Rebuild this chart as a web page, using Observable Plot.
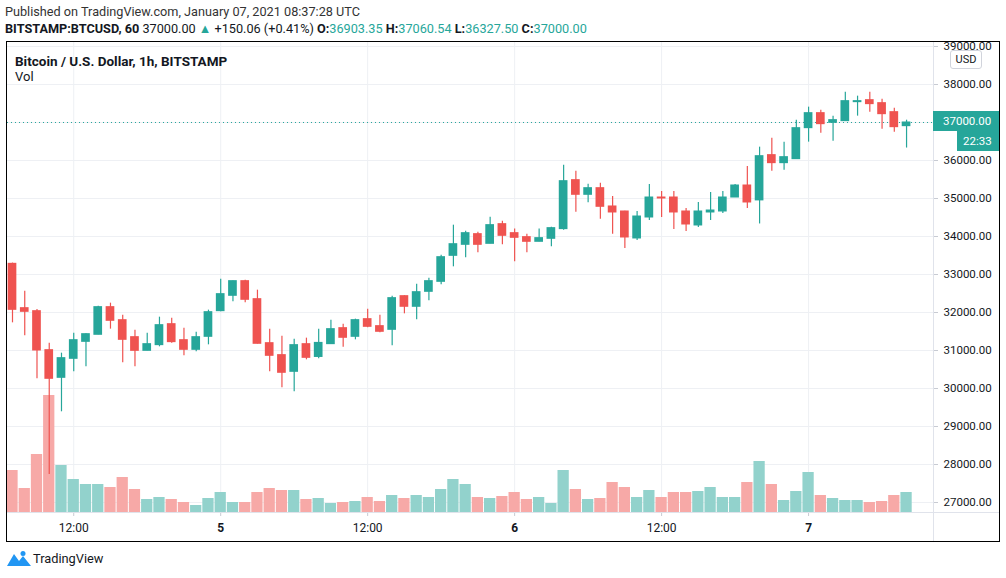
<!DOCTYPE html>
<html><head><meta charset="utf-8">
<script src="https://cdn.jsdelivr.net/npm/d3@7"></script>
<script src="https://cdn.jsdelivr.net/npm/@observablehq/plot@0.6"></script>
<style>
body{margin:0;background:#fff;font-family:Roboto,"Open Sans",sans-serif;color:#131722;}
#root{position:relative;width:1006px;height:578px;overflow:hidden;background:#fff;}
.abs{position:absolute;white-space:nowrap;}
#chart{position:absolute;left:0;top:42px;width:1006px;height:500px;overflow:hidden;}
#chart svg{position:absolute;left:0;top:0;}
.b{font-weight:bold;}
.g{color:#26a69a;}
</style></head><body>
<div id="root">
  <div class="abs" style="left:5px;top:4px;font-size:12.7px;line-height:16px;color:#333;">Published on TradingView.com, January 07, 2021 08:37:28 UTC</div>
  <div class="abs" style="left:5px;top:21px;font-size:12.7px;line-height:16px;"><span class="b">BITSTAMP:BTCUSD, 60</span> 37000.00 <span class="g">▲</span> +150.06 (+0.41%) <span class="b">O:</span><span class="g">36903.35</span> <span class="b">H:</span><span class="g">37060.54</span> <span class="b">L:</span><span class="g">36327.50</span> <span class="b">C:</span><span class="g">37000.00</span></div>
  <div id="chart"></div>
  <div class="abs" style="left:933px;top:42px;width:1px;height:500px;background:#e0e3eb;"></div>
  <div class="abs" style="left:7px;top:512px;width:992px;height:1px;background:#e0e3eb;"></div>
  <div class="abs" style="left:15px;top:53px;font-size:13.5px;line-height:16px;font-weight:bold;">Bitcoin / U.S. Dollar, 1h, BITSTAMP</div>
  <div class="abs" style="left:15px;top:69px;font-size:13px;line-height:16px;">Vol</div>
  <div class="abs" style="left:950px;top:50px;width:30px;height:17px;border:1px solid #d1d4dc;border-radius:3px;font-size:11px;line-height:17px;text-align:center;background:#fff;">USD</div>
  <div class="abs" style="left:933px;top:111px;width:66px;height:20px;background:#26a69a;color:#fff;font-size:11.5px;line-height:20px;padding-left:10px;box-sizing:border-box;">37000.00</div>
  <div class="abs" style="left:957px;top:131px;width:42px;height:20px;background:#26a69a;color:#fff;font-size:11.5px;line-height:20px;padding-left:6px;box-sizing:border-box;">22:33</div>
  <div class="abs" style="left:6px;top:41px;width:992px;height:499px;border:1px solid #000;"></div>
  <svg class="abs" style="left:6px;top:550px;" width="26" height="18" viewBox="0 0 26 18">
    <path d="M1 16 L8 4 L13 11 L17 6 L25 16 Z" fill="#2196f3"/>
    <circle cx="17" cy="3.5" r="2.5" fill="#2196f3"/>
  </svg>
  <div class="abs" style="left:33px;top:551px;font-size:12.8px;line-height:16px;color:#131722;">TradingView</div>
</div>
<script>
// Hourly candles, BITSTAMP BTCUSD, first candle 2021-01-04 07:00 UTC
const startHour = Date.UTC(2021, 0, 4, 7);
const opens  = [33281,32114,32035,31009,30281,30781,31228,31413,32141,31798,31351,30991,31141,31693,31272,31018,31360,32035,32439,32825,32351,31193,30878,30439,31167,30830,31167,31588,31360,31825,31641,31544,32430,32150,32544,32807,33491,33781,34062,33807,34325,34088,33983,33860,33939,34194,35483,35097,35272,34790,34658,33948,34500,35026,35026,34658,34290,34632,34658,35026,35342,34950,36141,35930,36035,36851,37246,36991,37035,37535,37588,37509,37272,36903.35];
const highs  = [33300,32561,32079,31193,30930,31456,31440,32167,32246,31930,31535,31456,31877,31851,31588,31483,32062,32877,32830,32851,32588,31562,31378,31299,31325,31562,31799,31693,31825,32088,31930,32430,32440,32746,32904,33509,34298,34141,34115,34509,34404,34194,34062,34194,34246,35877,35719,35377,35404,35053,34665,34658,35368,35184,35184,34737,34895,35158,35184,35368,35842,36351,36588,36483,37062,37404,37325,37167,37798,37693,37798,37614,37377,37060.54];
const lows   = [31728,31386,30255,27734,29387,30439,30571,31413,31562,30676,30571,30991,31097,31193,30860,30965,31149,32018,32281,32254,31170,30439,30018,29913,30755,30780,31167,31088,31281,31597,31465,31123,31965,31808,32307,32728,33202,33439,33571,33807,33781,33334,33571,33860,33728,34167,34641,34886,34456,34062,33685,33895,34421,34500,34184,34132,34237,34421,34605,35026,34737,34330,35720,35746,36035,36483,36720,36509,37035,37167,37272,36825,36746,36327.50];
const closes = [32070,32018,31000,30255,30799,31272,31430,32141,31781,31281,30991,31167,31667,31220,31018,31351,32009,32483,32825,32334,31176,30860,30413,31141,30807,31200,31562,31334,31799,31623,31492,32378,32150,32535,32825,33456,33798,34088,33781,34299,34018,33965,33860,33957,34220,35456,35097,35272,34781,34632,33974,34526,35026,35000,34632,34316,34658,34684,35026,35342,34895,36114,35930,36088,36851,37246,36956,37062,37562,37562,37483,37219,36877,37000.00];
const volumes = [1260,720,1740,3510,1410,990,840,840,750,1050,690,390,450,390,300,210,420,600,300,300,600,720,660,660,390,420,270,300,330,450,330,510,420,510,450,690,990,840,450,420,480,600,390,450,270,1260,690,390,420,900,750,450,660,450,600,600,630,750,450,450,900,1530,840,360,630,1200,510,420,360,360,300,330,510,600];

const priceTicks = [27000,28000,29000,30000,31000,32000,33000,34000,35000,36000,37000,38000,39000];
const halfDayTicks = [Date.UTC(2021,0,4,12), Date.UTC(2021,0,5,12), Date.UTC(2021,0,6,12)].map(t => new Date(t));
const dayTicks = [Date.UTC(2021,0,5), Date.UTC(2021,0,6), Date.UTC(2021,0,7)].map(t => new Date(t));
const halfDayLabel = "12:00";

const candles = opens.map((o, i) => ({
  time: new Date(startHour + i * 3600e3),
  open: o, high: highs[i], low: lows[i], close: closes[i], volume: volumes[i],
  up: closes[i] >= o
}));

const UP = "#26a69a", DOWN = "#ef5350", UPV = "#92d2cc", DOWNV = "#f7a9a7";
const HOUR = 3600e3;
const common = {
  width: 1006, height: 500,
  marginLeft: 7, marginRight: 73, marginTop: 0, marginBottom: 30,
  style: {background: "transparent", fontFamily: "Roboto, 'Open Sans', sans-serif", fontSize: "12px", color: "#131722"}
};
const xScale = {type: "utc", domain: [new Date(startHour - 0.408 * HOUR), new Date(startHour + 75.2 * HOUR)]};
const yPrice = {domain: [26737, 39105]};

const gridPlot = Plot.plot({
  ...common, x: xScale, y: yPrice,
  marks: [
    Plot.gridY(priceTicks, {stroke: "#eef0f4", strokeOpacity: 1}),
    Plot.gridX([...halfDayTicks, ...dayTicks], {stroke: "#eef0f4", strokeOpacity: 1}),
    Plot.axisY(priceTicks, {anchor: "right", tickSize: 4, tickPadding: 6, stroke: "#c8cbd3", fill: "#131722", fontSize: 11.5, tickFormat: d => d.toFixed(2)}),
    Plot.axisX(halfDayTicks, {anchor: "bottom", tickSize: 4, tickPadding: 7, stroke: "#c8cbd3", fill: "#131722", fontSize: 12, tickFormat: () => halfDayLabel}),
    Plot.axisX(dayTicks, {anchor: "bottom", tickSize: 4, tickPadding: 7, stroke: "#c8cbd3", fill: "#131722", fontSize: 12, fontWeight: "bold", tickFormat: d => String(d.getUTCDate())})
  ]
});

const volPlot = Plot.plot({
  ...common, x: xScale, y: {domain: [0, 14100]},
  axis: null,
  marks: [
    Plot.rect(candles, {
      x1: d => new Date(+d.time - 0.46 * HOUR), x2: d => new Date(+d.time + 0.46 * HOUR),
      y1: 0, y2: "volume", fill: d => d.up ? UPV : DOWNV
    })
  ]
});

const candlePlot = Plot.plot({
  ...common, x: xScale, y: yPrice,
  axis: null,
  marks: [
    Plot.ruleY([closes[closes.length - 1]], {stroke: UP, strokeDasharray: "1 3", strokeWidth: 1}),
    Plot.ruleX(candles, {x: "time", y1: "low", y2: "high", stroke: d => d.up ? UP : DOWN, strokeWidth: 1.2}),
    Plot.rect(candles, {
      x1: d => new Date(+d.time - 0.355 * HOUR), x2: d => new Date(+d.time + 0.355 * HOUR),
      y1: "open", y2: "close", fill: d => d.up ? UP : DOWN, insetTop: -0.5, insetBottom: -0.5
    })
  ]
});

const chart = document.getElementById("chart");
chart.append(gridPlot, volPlot, candlePlot);
</script>
</body></html>
